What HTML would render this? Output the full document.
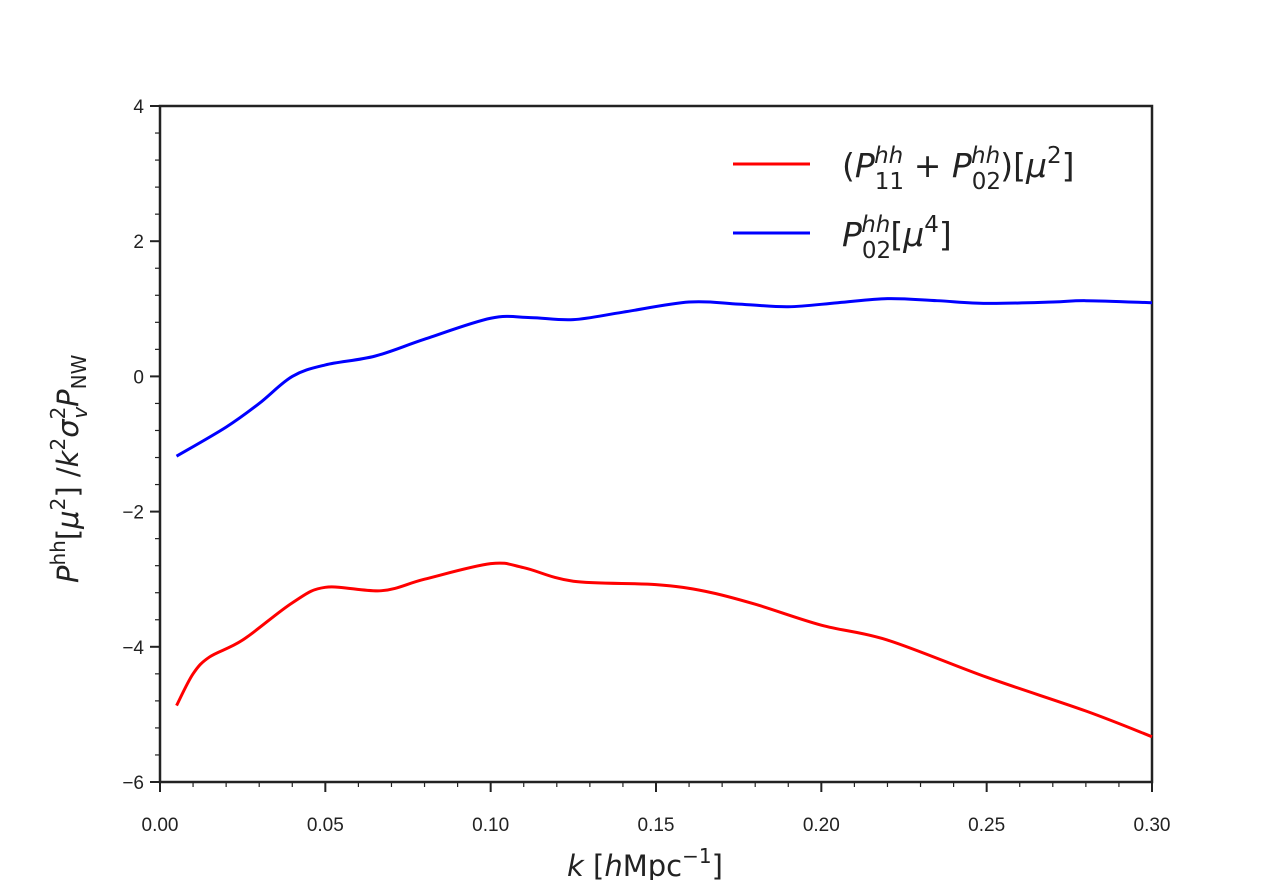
<!DOCTYPE html>
<html><head><meta charset="utf-8"><style>
body{margin:0;background:#fff;}
svg{font-family:"Liberation Sans","DejaVu Sans",sans-serif;}
.m{font-family:"DejaVu Sans",sans-serif;}
</style></head><body>
<svg id="chart" width="1280" height="880">
<g id="axes"></g>
<g id="series"></g>
<g id="legend">
<line x1="733" y1="164" x2="810" y2="164" stroke="#ff0000" stroke-width="3"/>
<text class="m" x="842" y="177" font-size="33" fill="#222">(<tspan font-style="italic">P</tspan><tspan font-size="23" dy="12">11</tspan><tspan font-size="23" font-style="italic" dx="-30" dy="-26">hh</tspan><tspan dy="14"> + </tspan><tspan font-style="italic">P</tspan><tspan font-size="23" dy="12">02</tspan><tspan font-size="23" font-style="italic" dx="-30" dy="-26">hh</tspan><tspan dy="14">)[</tspan><tspan font-style="italic">μ</tspan><tspan font-size="23" dy="-14">2</tspan><tspan dy="14">]</tspan></text>
<line x1="733" y1="233" x2="810" y2="233" stroke="#0000ff" stroke-width="3"/>
<text class="m" x="842" y="246" font-size="33" fill="#222"><tspan font-style="italic">P</tspan><tspan font-size="23" dy="12">02</tspan><tspan font-size="23" font-style="italic" dx="-30" dy="-26">hh</tspan><tspan dy="14">[</tspan><tspan font-style="italic">μ</tspan><tspan font-size="23" dy="-14">4</tspan><tspan dy="14">]</tspan></text>
</g>
<text class="m" x="567" y="876" font-size="29" fill="#222"><tspan font-style="italic">k</tspan> [<tspan font-style="italic">h</tspan>Mpc<tspan font-size="20" dy="-13">−1</tspan><tspan dy="13">]</tspan></text>
<text class="m" transform="translate(78,583) rotate(-90)" font-size="29" fill="#222"><tspan font-style="italic">P</tspan><tspan font-size="20" dy="-13">hh</tspan><tspan dy="13">[</tspan><tspan font-style="italic">μ</tspan><tspan font-size="20" dy="-13">2</tspan><tspan dy="13">] /</tspan><tspan font-style="italic">k</tspan><tspan font-size="20" dy="-13">2</tspan><tspan dy="13" font-style="italic">σ</tspan><tspan font-size="20" dy="-13">2</tspan><tspan font-size="20" font-style="italic" dx="-12" dy="22">v</tspan><tspan dy="-9" font-style="italic">P</tspan><tspan font-size="20" dy="8">NW</tspan></text>
</svg>
<script>
const xTicks=[0,0.05,0.10,0.15,0.20,0.25,0.30];
const xTickLabels=["0.00","0.05","0.10","0.15","0.20","0.25","0.30"];
const yTicks=[4,2,0,-2,-4,-6];
const yTickLabels=["4","2","0","−2","−4","−6"];
const kRed=[0.005,0.01,0.015,0.025,0.04,0.05,0.067,0.08,0.10,0.11,0.125,0.15,0.165,0.18,0.20,0.22,0.25,0.28,0.30];
const valRed=[-4.87,-4.4,-4.15,-3.9,-3.35,-3.12,-3.17,-3.0,-2.77,-2.83,-3.03,-3.08,-3.18,-3.37,-3.68,-3.9,-4.45,-4.95,-5.33];
const kBlue=[0.005,0.02,0.03,0.04,0.05,0.065,0.08,0.10,0.112,0.125,0.14,0.16,0.175,0.19,0.205,0.22,0.235,0.25,0.27,0.28,0.30];
const valBlue=[-1.18,-0.75,-0.4,0.0,0.17,0.3,0.55,0.86,0.87,0.84,0.95,1.1,1.07,1.03,1.09,1.15,1.12,1.08,1.1,1.12,1.09];
const X0=160,X1=1152,Y0=106,Y1=782;
const sx=v=>X0+(v-0)/(0.30)*(X1-X0);
const sy=v=>Y0+(4-v)/10*(Y1-Y0);
const NS="http://www.w3.org/2000/svg";
const axes=document.getElementById('axes');
function mk(tag,attrs,parent){const e=document.createElementNS(NS,tag);for(const k in attrs)e.setAttribute(k,attrs[k]);parent.appendChild(e);return e;}
const frame=mk('rect',{x:X0,y:Y0,width:X1-X0,height:Y1-Y0,fill:'none',stroke:'#222','stroke-width':2.5},axes);


for(let i=0;i<=30;i++){const v=i*0.01;const big=i%5===0;
 const t=mk('line',{x1:sx(v),x2:sx(v),y1:Y1,y2:Y1+(big?10:5),stroke:'#222','stroke-width':big?2:1.2},axes);
 
 }
xTicks.forEach((v,i)=>{const t=mk('text',{x:sx(v),y:Y1+49,'text-anchor':'middle','font-size':19,fill:'#222'},axes);t.textContent=xTickLabels[i];
 
 });
for(let i=0;i<=25;i++){const v=4-i*0.4;const big=i%5===0;
 const t=mk('line',{x1:X0-(big?10:5),x2:X0,y1:sy(v),y2:sy(v),stroke:'#222','stroke-width':big?2:1.2},axes);
 
 }
yTicks.forEach((v,i)=>{const t=mk('text',{x:X0-16,y:sy(v)+7,'text-anchor':'end','font-size':19,fill:'#222'},axes);t.textContent=yTickLabels[i];
 
 });
function path(ks,vs){const p=ks.map((k,i)=>[sx(k),sy(vs[i])]);let d=`M${p[0][0]},${p[0][1]}`;
 for(let i=0;i<p.length-1;i++){const a=p[Math.max(0,i-1)],b=p[i],c=p[i+1],e=p[Math.min(p.length-1,i+2)];
 d+=` C${b[0]+(c[0]-a[0])/6},${b[1]+(c[1]-a[1])/6} ${c[0]-(e[0]-b[0])/6},${c[1]-(e[1]-b[1])/6} ${c[0]},${c[1]}`;}return d;}
const ser=document.getElementById('series');
const r=mk('path',{d:path(kRed,valRed),fill:'none',stroke:'#ff0000','stroke-width':3},ser);


const b=mk('path',{d:path(kBlue,valBlue),fill:'none',stroke:'#0000ff','stroke-width':3},ser);


</script>
</body></html>
